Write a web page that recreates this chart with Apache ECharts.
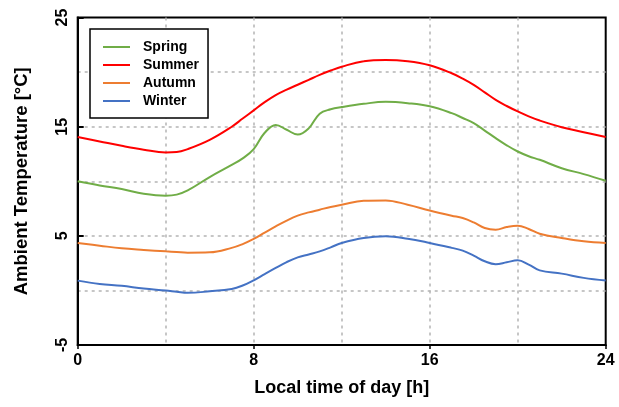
<!DOCTYPE html>
<html>
<head>
<meta charset="utf-8">
<script src="https://cdn.jsdelivr.net/npm/echarts@6/dist/echarts.min.js"></script>
<style>
html,body{margin:0;padding:0;background:#fff;}
#chart{width:619px;height:407px;}
</style>
</head>
<body>
<div id="chart"></div>
<script>
var hours = [0,1,2,3,4,4.5,5,6,7,7.5,8,8.5,9,9.5,10,10.5,11,11.5,12,13,14,15,16,17,17.5,18,18.5,19,19.5,20,20.5,21,22,23,24];
var spring = [10.0,9.62,9.29,8.86,8.68,8.78,9.16,10.39,11.5,12.1,12.95,14.45,15.17,14.72,14.28,14.85,16.2,16.6,16.8,17.1,17.28,17.16,16.88,16.25,15.8,15.33,14.65,13.95,13.3,12.73,12.3,11.97,11.2,10.66,10.05];
var summer = [14.05,13.65,13.25,12.9,12.65,12.68,12.95,13.8,15.0,15.75,16.5,17.25,17.9,18.4,18.85,19.3,19.75,20.15,20.5,21.0,21.12,21.0,20.63,19.9,19.4,18.83,18.15,17.46,16.9,16.4,15.95,15.57,14.96,14.5,14.05];
var autumn = [4.35,4.1,3.86,3.71,3.58,3.52,3.46,3.49,3.9,4.25,4.72,5.3,5.87,6.4,6.85,7.15,7.4,7.65,7.85,8.22,8.25,7.85,7.33,6.85,6.63,6.23,5.72,5.57,5.81,5.93,5.63,5.2,4.81,4.5,4.35];
var winter = [0.9,0.6,0.42,0.17,-0.01,-0.12,-0.22,-0.08,0.14,0.45,0.93,1.5,2.06,2.6,3.03,3.3,3.58,3.95,4.35,4.81,4.96,4.74,4.35,3.9,3.65,3.19,2.67,2.4,2.58,2.76,2.37,1.84,1.54,1.15,0.9];
var seriesNames = ['Spring','Summer','Autumn','Winter'];
var seriesColors = ['#70AD47','#FF0000','#ED7D31','#4472C4'];
var xTickLabels = [0,8,16,24];
var yTickLabels = [-5,5,15,25];

function pairs(vals){ return hours.map(function(h,i){ return [h, vals[i]]; }); }
var FONT = '"Liberation Sans", Arial, sans-serif';
var allVals = [spring, summer, autumn, winter];
var gridLine = {show:true, showMinLine:false, showMaxLine:false, lineStyle:{color:'#b4b4b4', width:1.5, type:[3,4]}};

var chart = echarts.init(document.getElementById('chart'), null, {renderer:'canvas'});
chart.setOption({
  animation:false,
  backgroundColor:'#fff',
  grid:{left:77.7, right:13.3, top:17.6, bottom:62, show:true, borderColor:'#000', borderWidth:2, backgroundColor:'transparent'},
  legend:{
    orient:'vertical', left:90, top:29,
    data:seriesNames.map(function(n){ return {name:n, icon:'rect'}; }),
    borderColor:'#000', borderWidth:1.5, backgroundColor:'#fff',
    padding:[11,9,10,13],
    itemWidth:27, itemHeight:2, itemGap:4,
    textStyle:{fontFamily:FONT, fontWeight:'bold', fontSize:14, color:'#000', lineHeight:14, padding:[0,0,0,8]}
  },
  xAxis:[
    {type:'value', min:0, max:24, interval:4,
     axisLine:{show:false, onZero:false}, axisTick:{show:false}, axisLabel:{show:false},
     splitLine:gridLine},
    {type:'value', min:0, max:24, interval:8, position:'bottom',
     name:'Local time of day [h]', nameLocation:'middle', nameGap:34,
     nameTextStyle:{fontFamily:FONT, fontWeight:'bold', fontSize:18, color:'#000'},
     axisLine:{show:true, onZero:false, lineStyle:{color:'#000', width:2}},
     axisTick:{show:true, inside:false, length:4, lineStyle:{color:'#000', width:1.5}},
     axisLabel:{fontFamily:FONT, fontWeight:'bold', fontSize:16, color:'#000', margin:8,
       formatter:function(v){ return xTickLabels.indexOf(v)>=0 ? String(v) : ''; }},
     splitLine:{show:false}}
  ],
  yAxis:[
    {type:'value', min:-5, max:25, interval:5,
     axisLine:{show:false, onZero:false}, axisTick:{show:false}, axisLabel:{show:false},
     splitLine:gridLine},
    {type:'value', min:-5, max:25, interval:10, position:'left',
     name:'Ambient Temperature [°C]', nameLocation:'middle', nameGap:46,
     nameTextStyle:{fontFamily:FONT, fontWeight:'bold', fontSize:18.5, color:'#000'},
     axisLine:{show:true, onZero:false, lineStyle:{color:'#000', width:2}},
     axisTick:{show:true, inside:true, length:6, lineStyle:{color:'#000', width:2}},
     axisLabel:{fontFamily:FONT, fontWeight:'bold', fontSize:16, color:'#000', rotate:90, margin:7,
       formatter:function(v){ return yTickLabels.indexOf(v)>=0 ? String(v) : ''; }},
     splitLine:{show:false}}
  ],
  series: seriesNames.map(function(n,i){
    return {name:n, type:'line', xAxisIndex:0, yAxisIndex:0, data:pairs(allVals[i]),
      smooth:0.4, symbol:'none', showSymbol:false,
      lineStyle:{color:seriesColors[i], width:2}, itemStyle:{color:seriesColors[i]}};
  })
});
</script>
</body>
</html>
